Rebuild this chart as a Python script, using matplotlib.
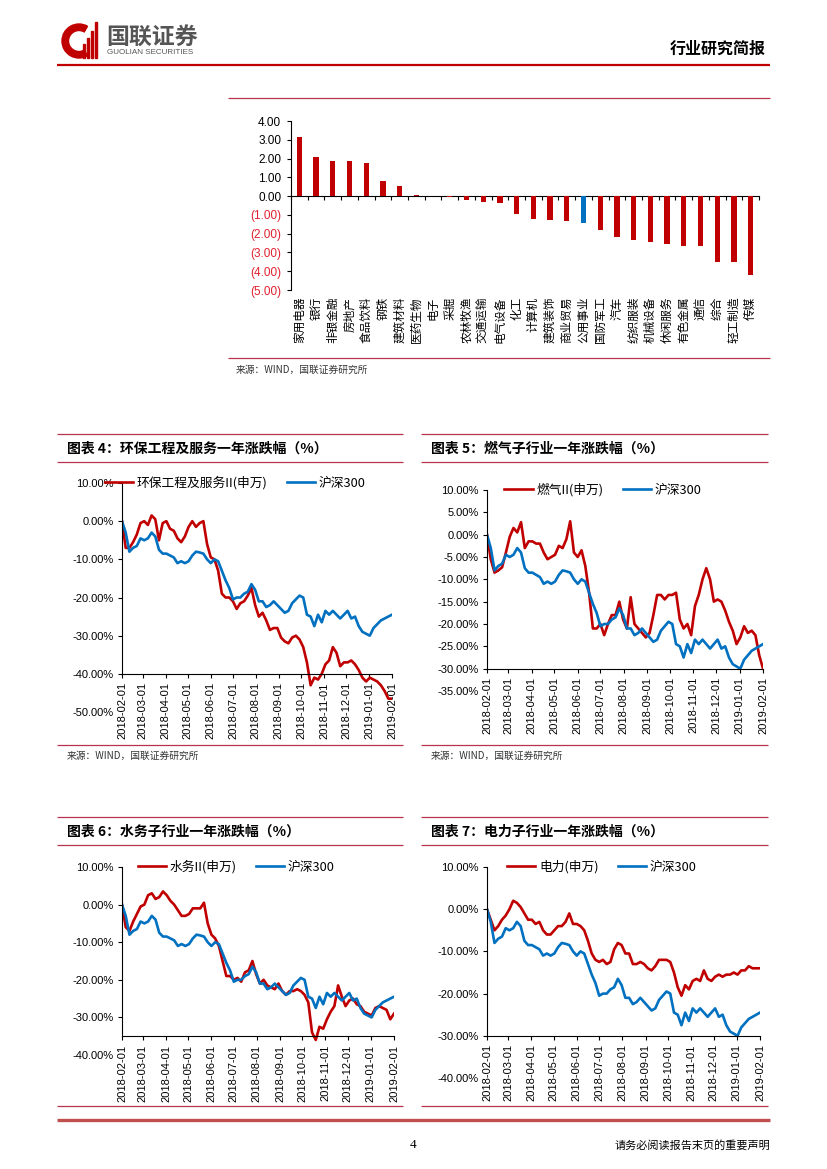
import numpy as np
import matplotlib.pyplot as plt
import matplotlib.patches as patches
import pandas as pd

plt.rcParams['font.family'] = ['Noto Sans CJK SC', 'DejaVu Sans']
plt.rcParams['axes.unicode_minus'] = False

W, H = 827, 1169
RED = '#C00000'
BLUE = '#0070C0'
RULE = '#B8334F'
NUM = 'Liberation Sans'

# ---- bar chart: industry changes
industries = ['家用电器', '银行', '非银金融', '房地产', '食品饮料', '钢铁', '建筑材料',
              '医药生物', '电子', '采掘', '农林牧渔', '交通运输', '电气设备', '化工',
              '计算机', '建筑装饰', '商业贸易', '公用事业', '国防军工', '汽车', '纺织服装',
              '机械设备', '休闲服务', '有色金属', '通信', '综合', '轻工制造', '传媒']
changes = [3.16, 2.09, 1.87, 1.86, 1.77, 0.82, 0.52, 0.07, 0.01, -0.07, -0.21, -0.30,
           -0.39, -0.96, -1.23, -1.25, -1.32, -1.41, -1.80, -2.16, -2.34, -2.45, -2.57,
           -2.66, -2.68, -3.52, -3.52, -4.18]
highlight = '公用事业'
bar_ticks = [4, 3, 2, 1, 0, -1, -2, -3, -4, -5]

# ---- line charts: one-year change (%), sampled every 5 days from 2018-02-01
dates = pd.date_range('2018-02-01', periods=74, freq='5D')
hs300 = [0, -3, -8, -7, -6.5, -4.5, -5, -4.5, -3, -4, -7.5, -8.5, -8.5, -9, -9.5, -11,
         -10.5, -11, -10.5, -9, -8, -8.2, -8.5, -10, -11, -10, -10.5, -13, -15.5, -17.5,
         -20.5, -20, -20, -19, -18.5, -16.5, -18, -21, -21, -22.5, -22, -21, -22, -23,
         -24, -23.5, -21.5, -20.5, -19.5, -20, -24.5, -25, -27.5, -24.5, -26.5, -23.5,
         -24.5, -23.5, -24.5, -25.5, -24.5, -23.5, -25.5, -25, -27.5, -29, -29.5, -30,
         -28, -27, -26, -25.5, -25, -24.5]
huanbao = [0, -7, -7, -5.5, -3.5, -0.5, 0, -1, 1.5, 0.5, -5, -0.5, 0, -2, -2.5, -4.5,
           -5.5, -4, -1.5, 0, -1.5, -0.5, 0, -6, -9.5, -10, -13, -19, -20, -20, -21, -23,
           -21.5, -21, -19.5, -17.5, -22, -25, -24, -26, -28.5, -28, -28, -30.5, -31.5,
           -32, -30.5, -30, -31, -33, -37, -43, -41, -41.5, -40, -37.5, -36.5, -33, -34.5,
           -38, -37, -37, -36.5, -37.5, -39, -41, -42, -41, -41.5, -42, -43, -44.5, -46.5,
           -46.5]
ranqi = [0, -5.5, -8.5, -8, -7.3, -4, -0.5, 1.5, 0.5, 2.8, -3, -1.5, -1.5, -2, -2, -4,
         -5.5, -5, -4.5, -2.5, -3, -1, 3, -4, -5, -3.5, -7, -13, -21, -21, -20, -22.5,
         -20, -18, -18, -15, -19, -21, -14, -20, -21, -22, -23, -22, -18, -13.5, -13.5,
         -14.5, -13.5, -13.5, -13, -19, -21, -20, -22.5, -16, -13.5, -10, -7.5, -10, -15,
         -14.5, -15, -17, -19.5, -21.5, -24.5, -23, -20.5, -22, -21.5, -22.5, -27, -30]
shuiwu = [0, -6, -7, -4.5, -2.5, -0.5, 0, 2.5, 3, 1.5, 2, 3.5, 2.5, 1, 0, -1.5, -3, -3,
          -2.5, -1, -1, -1, 0.5, -5, -8, -9, -11, -15, -19, -19, -20, -19.5, -20.5, -18,
          -17.5, -15, -18.5, -21, -20, -21.5, -22, -22.5, -21, -23, -24, -23, -23, -22.5,
          -23, -24, -26, -34, -36, -32.5, -33, -30.5, -28.5, -27, -21.5, -24.5, -27, -25.5,
          -25, -26.5, -27, -28.5, -29, -29.5, -27.5, -27, -27.5, -28, -30.5, -29]
dianli = [0, -2.5, -5, -4, -2.5, -1.5, 0, 2, 1.5, 0.5, -1, -2.5, -2.5, -3.5, -3, -5, -6,
          -6, -5, -4, -4, -3, -1, -3.5, -3.5, -4, -5, -7.5, -10.5, -12, -12.5, -12, -13,
          -12.5, -9.5, -8, -8.5, -10.5, -10.5, -13, -13, -12.5, -13, -14, -14.5, -13.5,
          -12, -12, -12, -12.5, -15, -18.5, -20.5, -18, -19, -17, -16.5, -17, -14.5, -16.5,
          -17, -16, -15.5, -16, -15.5, -15.5, -15, -15.5, -14.5, -14.5, -13.5, -14, -14, -14]
month_ticks = pd.date_range('2018-02-01', '2019-02-01', freq='MS')
month_labels = [d.strftime('%Y-%m-%d') for d in month_ticks]

fig = plt.figure(figsize=(W / 100, H / 100), dpi=100)
page = fig.add_axes([0, 0, 1, 1])
page.set_xlim(0, W)
page.set_ylim(H, 0)
page.axis('off')


def add_ax(l, t, r, b):
    return fig.add_axes([l / W, 1 - b / H, (r - l) / W, (b - t) / H])


def hline(x0, x1, y, color=RULE, lw=0.9):
    page.plot([x0, x1], [y, y], color=color, lw=lw, solid_capstyle='butt')


# header
page.add_patch(patches.Wedge((79, 41), 17, 60, 300, width=6.5, color=RED))
for bx, bh in [(83, 14), (87, 20), (91, 27), (95, 36)]:
    page.add_patch(patches.Rectangle((bx, 58 - bh), 2.2, bh, color=RED))
page.text(106, 37, '国联证券', fontsize=16.5, fontweight='bold', color='#555555', va='center')
page.text(107, 52, 'GUOLIAN SECURITIES', fontsize=5.8, color='#555555', va='center',
          family=NUM)
page.text(766, 49, '行业研究简报', fontsize=11.5, fontweight='bold', ha='right', va='center')
hline(57, 770, 64.5, color=RED, lw=1.6)

# bar chart
hline(228, 770, 98)
hline(228, 770, 358)
page.text(236, 370, '来源：WIND，国联证券研究所', fontsize=7, va='center', color='#333333')

ax = add_ax(291, 121, 759, 290)
x = np.arange(len(industries))
colors = [BLUE if n == highlight else RED for n in industries]
ax.bar(x, changes, width=0.32, color=colors, zorder=3)
ax.spines['bottom'].set_position(('data', 0))
ax.spines['top'].set_visible(False)
ax.spines['right'].set_visible(False)
ax.set_xlim(-0.5, len(industries) - 0.5)
ax.set_ylim(-5, 4)
ax.set_yticks(bar_ticks)
ax.set_yticklabels(['%.2f' % v if v >= 0 else '(%.2f)' % -v for v in bar_ticks],
                   family=NUM, fontsize=8.5)
for lab, v in zip(ax.get_yticklabels(), bar_ticks):
    lab.set_color('black' if v >= 0 else '#E0202E')
ax.set_xticks(np.arange(-0.5, len(industries), 1))
ax.set_xticklabels([])
ax.tick_params(axis='both', direction='out', length=3, width=0.8, pad=4)
for xi, name in zip(x, industries):
    ax.text(xi, -0.04, name, transform=ax.get_xaxis_transform(), rotation=90,
            ha='center', va='top', fontsize=8.4)


def line_chart(rect, series, name, ylim, yticks, cross, title, bx0, bx1, band_top):
    hline(bx0, bx1, band_top)
    hline(bx0, bx1, band_top + 28)
    page.text(bx0 + 10, band_top + 14.5, title, fontsize=10, fontweight='bold', va='center')
    ax = add_ax(*rect)
    ax.plot(dates, series, color=RED, lw=1.9, label=name)
    ax.plot(dates, hs300, color=BLUE, lw=1.9, label='沪深300')
    ax.spines['bottom'].set_position(('data', cross))
    ax.spines['left'].set_bounds(cross, ylim[1])
    ax.spines['top'].set_visible(False)
    ax.spines['right'].set_visible(False)
    ax.set_xlim(month_ticks[0], month_ticks[-1])
    ax.set_ylim(*ylim)
    ax.set_yticks(yticks)
    ax.set_yticklabels(['%.2f%%' % v for v in yticks], family=NUM, fontsize=8)
    ax.set_xticks(month_ticks, month_labels, rotation=90, family=NUM, fontsize=8)
    ax.tick_params(axis='both', direction='out', length=3, width=0.8, pad=3)
    for tick, v in zip(ax.yaxis.get_major_ticks(), yticks):
        if v < cross:
            tick.tick1line.set_visible(False)
    ax.legend(loc='center', bbox_to_anchor=(0.42, 1.0), ncol=2, frameon=False, fontsize=9.2,
              handlelength=2.2, handletextpad=0.3, columnspacing=1.5)
    return ax


line_chart((122, 483, 392, 712), huanbao, '环保工程及服务II(申万)', (-50, 10),
           [10, 0, -10, -20, -30, -40, -50], -40, '图表 4：环保工程及服务一年涨跌幅（%）',
           57, 403, 434)
line_chart((487, 490, 763, 691), ranqi, '燃气II(申万)', (-35, 10),
           [10, 5, 0, -5, -10, -15, -20, -25, -30, -35], -30, '图表 5：燃气子行业一年涨跌幅（%）',
           421, 768, 434)
line_chart((122, 867, 394, 1055), shuiwu, '水务II(申万)', (-40, 10),
           [10, 0, -10, -20, -30, -40], -35, '图表 6：水务子行业一年涨跌幅（%）',
           57, 403, 817)
line_chart((487, 867, 760, 1078), dianli, '电力(申万)', (-40, 10),
           [10, 0, -10, -20, -30, -40], -30, '图表 7：电力子行业一年涨跌幅（%）',
           421, 768, 817)

for x0, x1 in [(57, 403), (421, 768)]:
    hline(x0, x1, 745)
    page.text(x0 + 10, 756, '来源：WIND，国联证券研究所', fontsize=7, va='center', color='#333333')
    hline(x0, x1, 1106)

# footer
hline(57, 770, 1120, color='#C0504D', lw=2.4)
page.text(413, 1145, '4', fontsize=9.5, ha='center', va='center', family='Liberation Serif')
page.text(770, 1145, '请务必阅读报告末页的重要声明', fontsize=8, ha='right', va='center')

fig.savefig('out.png', dpi=100)
